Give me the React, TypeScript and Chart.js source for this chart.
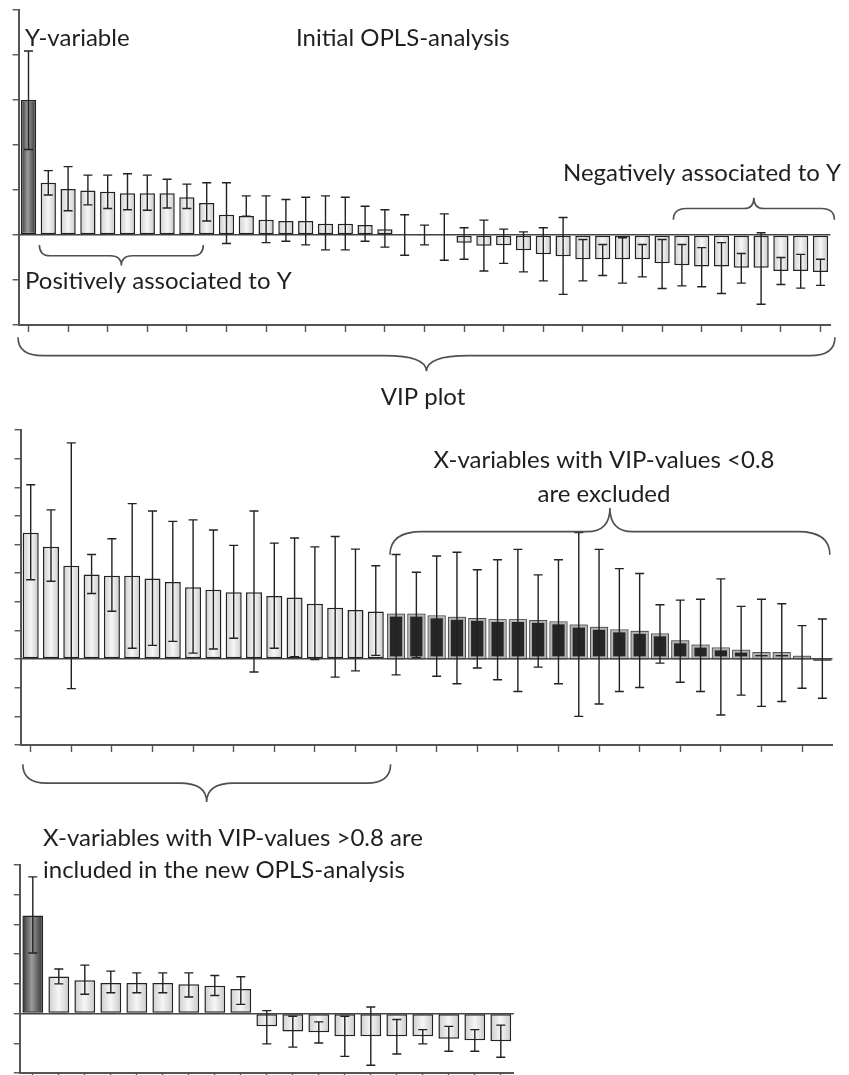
import React, { useEffect, useRef } from 'react';
import { Chart, registerables } from 'chart.js';

Chart.register(...registerables);

const FONT_FAMILY = 'Lato, "Open Sans", "Noto Sans", sans-serif';
const AXIS = '#555555';
const INK = '#222222';
const TEXT = '#1f1f1f';

// ---------------- Data ----------------
// Panel 1: initial OPLS-analysis (Y-variable + 40 X-variables)
const initialCategories = ['Y', 'X1', 'X2', 'X3', 'X4', 'X5', 'X6', 'X7', 'X8', 'X9', 'X10', 'X11', 'X12', 'X13', 'X14', 'X15', 'X16', 'X17', 'X18', 'X19', 'X20', 'X21', 'X22', 'X23', 'X24', 'X25', 'X26', 'X27', 'X28', 'X29', 'X30', 'X31', 'X32', 'X33', 'X34', 'X35', 'X36', 'X37', 'X38', 'X39', 'X40'];
const initialValues = [3.0, 1.16, 1.02, 0.99, 0.96, 0.93, 0.93, 0.93, 0.84, 0.71, 0.45, 0.42, 0.34, 0.31, 0.31, 0.25, 0.25, 0.22, 0.13, 0.0, -0.02, -0.02, -0.17, -0.24, -0.23, -0.34, -0.43, -0.47, -0.54, -0.54, -0.54, -0.54, -0.63, -0.67, -0.7, -0.7, -0.73, -0.73, -0.8, -0.8, -0.82];
const initialErrHigh = [4.09, 1.43, 1.52, 1.33, 1.33, 1.36, 1.33, 1.24, 1.13, 1.16, 1.16, 0.87, 0.87, 0.79, 0.84, 0.87, 0.84, 0.64, 0.56, 0.45, 0.22, 0.47, 0.16, 0.33, 0.13, 0.07, 0.16, 0.39, -0.1, -0.21, -0.06, -0.21, -0.1, -0.21, -0.28, -0.17, -0.41, 0.05, -0.5, -0.43, -0.54];
const initialErrLow = [1.9, 0.89, 0.54, 0.67, 0.59, 0.56, 0.55, 0.6, 0.59, 0.31, -0.19, 0.42, -0.17, -0.14, -0.22, -0.33, -0.33, -0.14, -0.27, -0.45, -0.22, -0.56, -0.54, -0.8, -0.63, -0.82, -1.02, -1.32, -1.02, -0.9, -1.07, -0.93, -1.19, -1.13, -1.15, -1.3, -1.07, -1.54, -1.1, -1.18, -1.12];

// Panel 2: VIP plot (40 X-variables, sorted by VIP)
const vipCategories = ['V1', 'V2', 'V3', 'V4', 'V5', 'V6', 'V7', 'V8', 'V9', 'V10', 'V11', 'V12', 'V13', 'V14', 'V15', 'V16', 'V17', 'V18', 'V19', 'V20', 'V21', 'V22', 'V23', 'V24', 'V25', 'V26', 'V27', 'V28', 'V29', 'V30', 'V31', 'V32', 'V33', 'V34', 'V35', 'V36', 'V37', 'V38', 'V39', 'V40'];
const vipValues = [4.41, 3.92, 3.26, 2.95, 2.91, 2.91, 2.81, 2.69, 2.51, 2.42, 2.33, 2.33, 2.2, 2.15, 1.93, 1.79, 1.71, 1.66, 1.55, 1.55, 1.49, 1.44, 1.4, 1.36, 1.36, 1.33, 1.28, 1.17, 1.09, 1.0, 0.95, 0.86, 0.62, 0.47, 0.37, 0.29, 0.21, 0.21, 0.08, -0.02];
const vipErrHigh = [6.09, 5.21, 7.55, 3.65, 4.2, 5.43, 5.17, 4.81, 4.86, 4.51, 3.97, 5.17, 4.05, 4.23, 3.92, 4.28, 3.84, 3.26, 3.65, 3.03, 3.6, 3.73, 3.12, 3.47, 3.83, 2.94, 3.47, 4.42, 3.83, 3.16, 2.99, 1.9, 2.06, 2.09, 2.8, 1.84, 2.09, 1.93, 1.17, 1.4];
const vipErrLow = [2.77, 2.72, -1.03, 2.29, 1.67, 0.38, 0.48, 0.62, 0.21, 0.35, 0.73, -0.45, 0.38, 0.08, -0.02, -0.63, -0.41, 0.13, -0.55, 0.05, -0.6, -0.86, -0.31, -0.72, -1.13, -0.28, -0.86, -2.0, -1.57, -1.13, -0.99, -0.14, -0.81, -1.13, -1.95, -1.26, -1.65, -1.48, -1.02, -1.37];
const vipIncludedCount = 18;

// Panel 3: new OPLS-analysis (Y-variable + 18 included X-variables)
const newCategories = ['Y', 'X1', 'X2', 'X3', 'X4', 'X5', 'X6', 'X7', 'X8', 'X9', 'X10', 'X11', 'X12', 'X13', 'X14', 'X15', 'X16', 'X17', 'X18'];
const newValues = [3.3, 1.25, 1.12, 1.03, 1.03, 1.03, 0.99, 0.94, 0.83, -0.43, -0.6, -0.63, -0.76, -0.76, -0.76, -0.76, -0.85, -0.9, -0.93];
const newErrHigh = [4.6, 1.5, 1.63, 1.43, 1.37, 1.37, 1.37, 1.28, 1.24, 0.1, -0.09, -0.28, -0.09, 0.22, -0.2, -0.54, -0.43, -0.54, -0.39];
const newErrLow = [2.04, 1.0, 0.65, 0.7, 0.7, 0.7, 0.56, 0.61, 0.31, -1.02, -1.13, -0.99, -1.44, -1.74, -1.36, -1.02, -1.27, -1.27, -1.47];

// ---------------- Annotation layout ----------------
type Brace = { x1: number; x2: number; yEnd: number; yMid: number; yTip: number; rEnd: number; rTip: number };
type TextLabel = { text: string; x: number; y: number; align: CanvasTextAlign };

const LIGHT_STOPS: [number, string][] = [[0, '#cdcdcd'], [0.5, '#f6f6f6'], [1, '#c9c9c9']];
const DARK_STOPS: [number, string][] = [[0, '#333333'], [0.45, '#9c9c9c'], [1, '#2e2e2e']];

function gradientFor(c: any, stops: [number, string][], pct: number, fallback: string) {
  const chart = c.chart;
  const xs = chart.scales && chart.scales.x;
  if (!xs || !chart.chartArea || c.type !== 'data') return fallback;
  const n = chart.data.labels.length;
  const w = (xs.width / n) * pct;
  const cx = xs.getPixelForValue(c.dataIndex);
  const g = chart.ctx.createLinearGradient(cx - w / 2, 0, cx + w / 2, 0);
  stops.forEach(([o, col]) => g.addColorStop(o, col));
  return g;
}

function drawBrace(ctx: CanvasRenderingContext2D, xs: any, ys: any, b: Brace) {
  const x1 = xs.getPixelForValue(b.x1);
  const x2 = xs.getPixelForValue(b.x2);
  const xm = (x1 + x2) / 2;
  const ye = ys.getPixelForValue(b.yEnd);
  const ym = ys.getPixelForValue(b.yMid);
  const yt = ys.getPixelForValue(b.yTip);
  ctx.beginPath();
  ctx.moveTo(x1, ye);
  ctx.quadraticCurveTo(x1, ym, x1 + b.rEnd, ym);
  ctx.lineTo(xm - b.rTip, ym);
  ctx.quadraticCurveTo(xm, ym, xm, yt);
  ctx.quadraticCurveTo(xm, ym, xm + b.rTip, ym);
  ctx.lineTo(x2 - b.rEnd, ym);
  ctx.quadraticCurveTo(x2, ym, x2, ye);
  ctx.stroke();
}

function makeOverlay(errHigh: number[], errLow: number[], outlined: (i: number) => boolean, braces: Brace[], labels: TextLabel[], fontSize: number) {
  return {
    id: 'overlay',
    afterDatasetsDraw(chart: any) {
      const ctx: CanvasRenderingContext2D = chart.ctx;
      const xs = chart.scales.x;
      const ys = chart.scales.y;
      const meta = chart.getDatasetMeta(0);
      ctx.save();
      // outer frame of framed (excluded) bars
      ctx.strokeStyle = '#4a4a4a';
      ctx.lineWidth = 1;
      meta.data.forEach((el: any, i: number) => {
        if (!outlined(i)) return;
        const p = el.getProps(['x', 'y', 'base', 'width'], true);
        const top = Math.min(p.y, p.base);
        const bot = Math.max(p.y, p.base);
        ctx.strokeRect(p.x - p.width / 2 - 0.5, top - 0.5, p.width + 1, bot - top + 1);
      });
      // error bars
      ctx.strokeStyle = INK;
      ctx.lineWidth = 1.4;
      const cap = 4.5;
      for (let i = 0; i < errHigh.length; i++) {
        const px = xs.getPixelForValue(i);
        const yh = ys.getPixelForValue(errHigh[i]);
        const yl = ys.getPixelForValue(errLow[i]);
        ctx.beginPath();
        ctx.moveTo(px, yh);
        ctx.lineTo(px, yl);
        ctx.moveTo(px - cap, yh);
        ctx.lineTo(px + cap, yh);
        ctx.moveTo(px - cap, yl);
        ctx.lineTo(px + cap, yl);
        ctx.stroke();
      }
      ctx.restore();
    },
    afterDraw(chart: any) {
      const ctx: CanvasRenderingContext2D = chart.ctx;
      const xs = chart.scales.x;
      const ys = chart.scales.y;
      ctx.save();
      ctx.strokeStyle = '#505050';
      ctx.lineWidth = 1.6;
      braces.forEach((b) => drawBrace(ctx, xs, ys, b));
      ctx.fillStyle = TEXT;
      ctx.font = `${fontSize}px ${FONT_FAMILY}`;
      ctx.textBaseline = 'alphabetic';
      labels.forEach((l) => {
        ctx.textAlign = l.align;
        ctx.fillText(l.text, l.x, l.y);
      });
      ctx.restore();
    },
  };
}

type PanelSpec = {
  categories: string[];
  values: number[];
  errHigh: number[];
  errLow: number[];
  yMin: number;
  yMax: number;
  barPct: number;
  fill: (c: any) => any;
  border: (c: any) => string;
  borderW: (c: any) => number;
  outlined: (i: number) => boolean;
  tickEvery: number;
  padding: { left: number; right: number; top: number; bottom: number };
  braces: Brace[];
  labels: TextLabel[];
  fontSize: number;
};

function buildConfig(s: PanelSpec): any {
  return {
    type: 'bar',
    data: {
      labels: s.categories,
      datasets: [
        {
          data: s.values,
          backgroundColor: s.fill,
          borderColor: s.border,
          borderWidth: s.borderW,
          borderSkipped: false,
          barPercentage: s.barPct,
          categoryPercentage: 1,
        },
      ],
    },
    options: {
      responsive: false,
      animation: false,
      events: [],
      layout: { padding: s.padding },
      plugins: { legend: { display: false }, tooltip: { enabled: false }, title: { display: false } },
      scales: {
        x: {
          type: 'category',
          offset: true,
          ticks: { display: false },
          grid: {
            offset: false,
            drawOnChartArea: false,
            drawTicks: true,
            tickLength: 7,
            tickWidth: 1.4,
            color: 'transparent',
            tickColor: (c: any) => (c.index % s.tickEvery === 0 ? AXIS : 'transparent'),
          },
          border: { display: true, color: AXIS, width: 2 },
          afterFit: (scale: any) => {
            scale.height = 7;
          },
        },
        y: {
          min: s.yMin,
          max: s.yMax,
          ticks: { display: false, stepSize: 1 },
          grid: {
            drawOnChartArea: true,
            drawTicks: true,
            tickLength: 6,
            lineWidth: 1.5,
            tickWidth: 1.4,
            color: (c: any) => (c.tick && c.tick.value === 0 ? '#444444' : 'transparent'),
            tickColor: AXIS,
          },
          border: { display: true, color: AXIS, width: 2 },
          afterFit: (scale: any) => {
            scale.width = 6;
          },
        },
      },
    },
    plugins: [makeOverlay(s.errHigh, s.errLow, s.outlined, s.braces, s.labels, s.fontSize)],
  };
}

const FONT_SIZE = 24;

const panel1: PanelSpec = {
  categories: initialCategories,
  values: initialValues,
  errHigh: initialErrHigh,
  errLow: initialErrLow,
  yMin: -2,
  yMax: 5,
  barPct: 0.77,
  fill: (c) => (c.dataIndex === 0 ? gradientFor(c, DARK_STOPS, 0.77, '#666') : gradientFor(c, LIGHT_STOPS, 0.77, '#e2e2e2')),
  border: () => INK,
  borderW: () => 1.5,
  outlined: () => false,
  tickEvery: 2,
  padding: { left: 12.6, right: 18.6, top: 10, bottom: 88 },
  braces: [
    { x1: 0.55, x2: 8.83, yEnd: -0.22, yMid: -0.46, yTip: -0.68, rEnd: 11, rTip: 11 },
    { x1: 32.57, x2: 40.7, yEnd: 0.34, yMid: 0.59, yTip: 0.83, rEnd: 13, rTip: 10 },
    { x1: -0.53, x2: 40.73, yEnd: -2.27, yMid: -2.68, yTip: -3.03, rEnd: 25, rTip: 42 },
  ],
  labels: [
    { text: 'Y-variable', x: 25, y: 46, align: 'left' },
    { text: 'Initial OPLS-analysis', x: 296, y: 46, align: 'left' },
    { text: 'Negatively associated to Y', x: 563, y: 181, align: 'left' },
    { text: 'Positively associated to Y', x: 25, y: 289, align: 'left' },
    { text: 'VIP plot', x: 423, y: 405, align: 'center' },
  ],
  fontSize: FONT_SIZE,
};

const panel2: PanelSpec = {
  categories: vipCategories,
  values: vipValues,
  errHigh: vipErrHigh,
  errLow: vipErrLow,
  yMin: -3,
  yMax: 8,
  barPct: 0.79,
  fill: (c) => (c.dataIndex < vipIncludedCount ? gradientFor(c, LIGHT_STOPS, 0.79, '#e2e2e2') : '#262626'),
  border: (c) => (c.dataIndex < vipIncludedCount ? INK : '#b4b4b4'),
  borderW: (c) => (c.dataIndex < vipIncludedCount ? 1.5 : 1.8),
  outlined: (i) => i >= vipIncludedCount,
  tickEvery: 2,
  padding: { left: 14.55, right: 16.5, top: 10, bottom: 78 },
  braces: [
    { x1: 17.7, x2: 39.37, yEnd: 3.64, yMid: 4.45, yTip: 5.28, rEnd: 32, rTip: 23 },
    { x1: -0.39, x2: 17.73, yEnd: -3.67, yMid: -4.33, yTip: -4.99, rEnd: 24, rTip: 27 },
  ],
  labels: [
    { text: 'X-variables with VIP-values <0.8', x: 604, y: 48, align: 'center' },
    { text: 'are excluded', x: 604, y: 82, align: 'center' },
  ],
  fontSize: FONT_SIZE,
};

const panel3: PanelSpec = {
  categories: newCategories,
  values: newValues,
  errHigh: newErrHigh,
  errLow: newErrLow,
  yMin: -2,
  yMax: 5,
  barPct: 0.8,
  fill: (c) => (c.dataIndex === 0 ? gradientFor(c, DARK_STOPS, 0.8, '#666') : gradientFor(c, LIGHT_STOPS, 0.8, '#e2e2e2')),
  border: () => INK,
  borderW: () => 1.5,
  outlined: () => false,
  tickEvery: 1,
  padding: { left: 13.8, right: 335.2, top: 45, bottom: 5 },
  braces: [],
  labels: [
    { text: 'X-variables with VIP-values >0.8 are', x: 43, y: 26, align: 'left' },
    { text: 'included in the new OPLS-analysis', x: 43, y: 58, align: 'left' },
  ],
  fontSize: FONT_SIZE,
};

function Panel({ spec, top, height }: { spec: PanelSpec; top: number; height: number }) {
  const ref = useRef<HTMLCanvasElement | null>(null);
  useEffect(() => {
    if (!ref.current) return;
    const chart = new Chart(ref.current, buildConfig(spec));
    return () => chart.destroy();
  }, [spec]);
  return (
    <canvas
      ref={ref}
      width={849}
      height={height}
      style={{ position: 'absolute', left: 0, top, width: 849, height, display: 'block' }}
    />
  );
}

export default function App() {
  return (
    <div
      style={{
        position: 'absolute',
        left: 0,
        top: 0,
        width: 849,
        height: 1075,
        overflow: 'hidden',
        background: '#ffffff',
      }}
    >
      <Panel spec={panel1} top={0} height={420} />
      <Panel spec={panel2} top={420} height={410} />
      <Panel spec={panel3} top={820} height={265} />
    </div>
  );
}
